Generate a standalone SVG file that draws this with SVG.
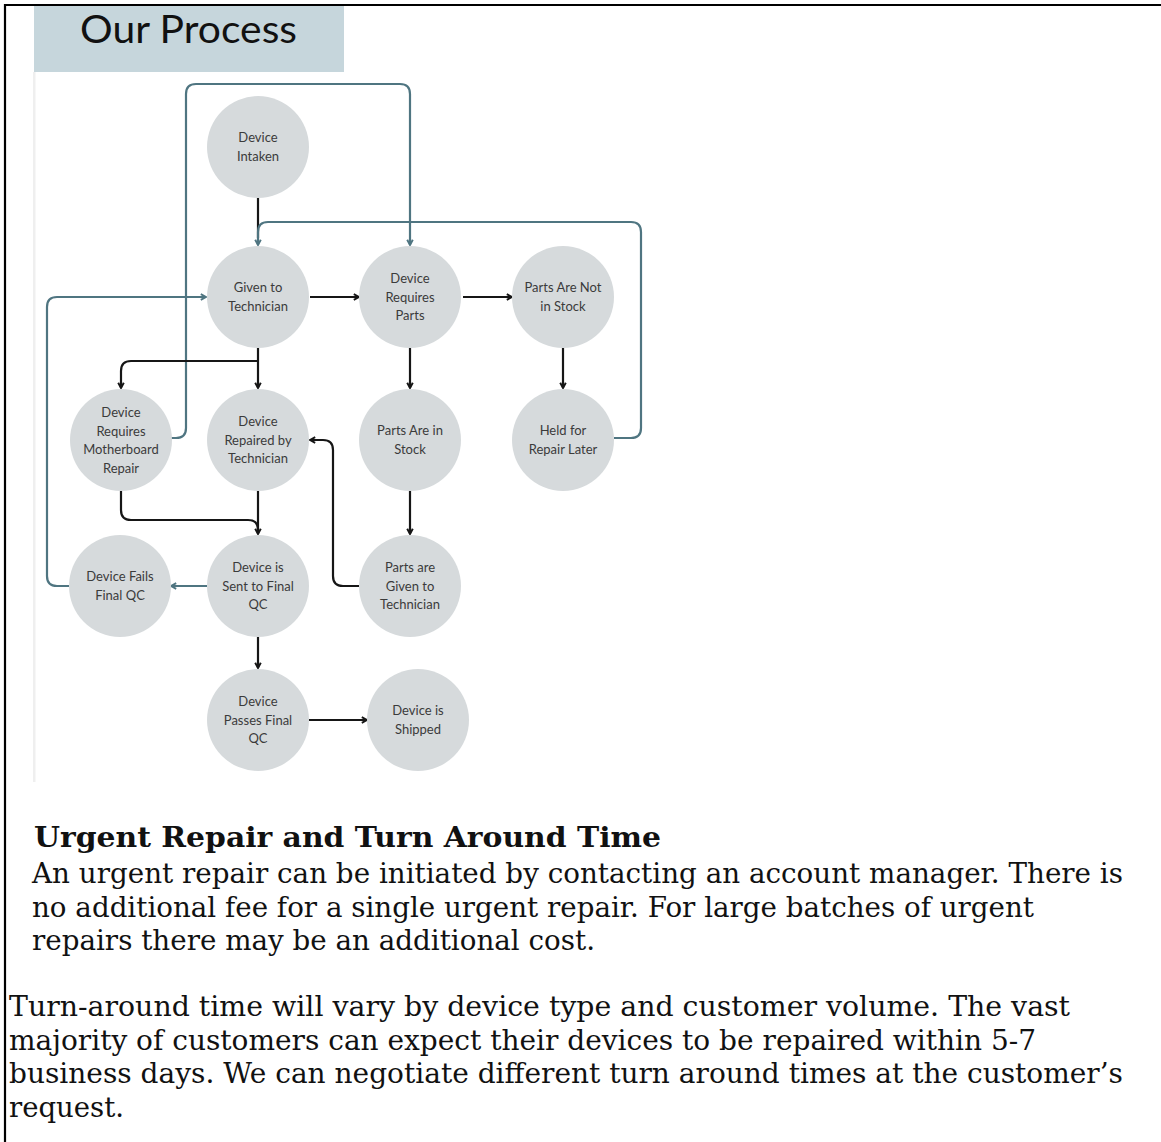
<svg xmlns="http://www.w3.org/2000/svg" width="1161" height="1142" viewBox="0 0 1161 1142">
<style>
.node circle{fill:#d6dadc}
.node text{font-family:Lato,"Noto Sans",sans-serif;font-size:13px;fill:#3b3b3b;text-anchor:middle}
.blk{fill:none;stroke:#161616;stroke-width:2.2}
.tl{fill:none;stroke:#4f7581;stroke-width:2.2}
.body{font-family:"DejaVu Serif","Liberation Serif",serif;font-size:27.5px;fill:#111}
.head{font-family:"DejaVu Serif","Liberation Serif",serif;font-size:28px;font-weight:bold;fill:#111}
</style>
<defs>
<marker id="ab" viewBox="0 0 10 10" refX="8.5" refY="5" markerWidth="8" markerHeight="8" markerUnits="userSpaceOnUse" orient="auto">
<path d="M2,1.5 L8.5,5 L2,8.5" fill="none" stroke="#161616" stroke-width="2.4"/>
</marker>
<marker id="at" viewBox="0 0 10 10" refX="8.5" refY="5" markerWidth="8" markerHeight="8" markerUnits="userSpaceOnUse" orient="auto">
<path d="M2,1.5 L8.5,5 L2,8.5" fill="none" stroke="#4f7581" stroke-width="2.4"/>
</marker>
</defs>
<rect width="1161" height="1142" fill="#fff"/>
<path d="M5,1142 V5 H1161" fill="none" stroke="#000" stroke-width="2.2"/>
<rect x="33" y="72" width="2.5" height="710" fill="#efefef"/>
<g id="title">
<rect x="34" y="6" width="310" height="66" fill="#c6d6dc"/>
<text x="80" y="43" font-family="Lato,'Noto Sans',sans-serif" font-size="38" fill="#111" textLength="217" lengthAdjust="spacingAndGlyphs">Our Process</text>
</g>
<g id="connectors">
<path class="blk" d="M258,198 V238"/>
<path class="tl" d="M614,438 H631 Q641,438 641,428 V232 Q641,222 631,222 H268 Q258,222 258,232 V245" marker-end="url(#at)"/>
<path class="tl" d="M171,438 H176 Q186,438 186,428 V94 Q186,84 196,84 H400 Q410,84 410,94 V245" marker-end="url(#at)"/>
<path class="tl" d="M69,586 H57 Q47,586 47,576 V307 Q47,297 57,297 H206" marker-end="url(#at)"/>
<path class="tl" d="M207,586 H171" marker-end="url(#at)"/>
<path class="blk" d="M310,297 H359" marker-end="url(#ab)"/>
<path class="blk" d="M463,297 H512" marker-end="url(#ab)"/>
<path class="blk" d="M258,348 V388" marker-end="url(#ab)"/>
<path class="blk" d="M258,361 H131 Q121,361 121,371 V388" marker-end="url(#ab)"/>
<path class="blk" d="M410,348 V388" marker-end="url(#ab)"/>
<path class="blk" d="M563,348 V388" marker-end="url(#ab)"/>
<path class="blk" d="M410,491 V534" marker-end="url(#ab)"/>
<path class="blk" d="M359,586 H343 Q333,586 333,576 V450 Q333,440 323,440 H310" marker-end="url(#ab)"/>
<path class="blk" d="M258,491 V534" marker-end="url(#ab)"/>
<path class="blk" d="M121,491 V510 Q121,520 131,520 H248 Q258,520 258,530"/>
<path class="blk" d="M258,637 V668" marker-end="url(#ab)"/>
<path class="blk" d="M309,720 H367" marker-end="url(#ab)"/>
</g>
<g id="n-intake" class="node"><circle cx="258" cy="147" r="51"/><text x="258" y="142">Device</text><text x="258" y="161">Intaken</text></g>
<g id="n-given" class="node"><circle cx="258" cy="297" r="51"/><text x="258" y="292">Given to</text><text x="258" y="311">Technician</text></g>
<g id="n-reqparts" class="node"><circle cx="410" cy="297" r="51"/><text x="410" y="283">Device</text><text x="410" y="301.5">Requires</text><text x="410" y="320">Parts</text></g>
<g id="n-notstock" class="node"><circle cx="563" cy="297" r="51"/><text x="563" y="292">Parts Are Not</text><text x="563" y="311">in Stock</text></g>
<g id="n-motherboard" class="node"><circle cx="121" cy="440" r="51"/><text x="121" y="417">Device</text><text x="121" y="435.5">Requires</text><text x="121" y="454">Motherboard</text><text x="121" y="472.5">Repair</text></g>
<g id="n-repaired" class="node"><circle cx="258" cy="440" r="51"/><text x="258" y="426">Device</text><text x="258" y="444.5">Repaired by</text><text x="258" y="463">Technician</text></g>
<g id="n-instock" class="node"><circle cx="410" cy="440" r="51"/><text x="410" y="435">Parts Are in</text><text x="410" y="454">Stock</text></g>
<g id="n-held" class="node"><circle cx="563" cy="440" r="51"/><text x="563" y="435">Held for</text><text x="563" y="454">Repair Later</text></g>
<g id="n-fails" class="node"><circle cx="120" cy="586" r="51"/><text x="120" y="581">Device Fails</text><text x="120" y="600">Final QC</text></g>
<g id="n-sent" class="node"><circle cx="258" cy="586" r="51"/><text x="258" y="572">Device is</text><text x="258" y="590.5">Sent to Final</text><text x="258" y="609">QC</text></g>
<g id="n-partsgiven" class="node"><circle cx="410" cy="586" r="51"/><text x="410" y="572">Parts are</text><text x="410" y="590.5">Given to</text><text x="410" y="609">Technician</text></g>
<g id="n-passes" class="node"><circle cx="258" cy="720" r="51"/><text x="258" y="706">Device</text><text x="258" y="724.5">Passes Final</text><text x="258" y="743">QC</text></g>
<g id="n-shipped" class="node"><circle cx="418" cy="720" r="51"/><text x="418" y="715">Device is</text><text x="418" y="734">Shipped</text></g>
<g id="text-block">
<text class="head" x="34" y="847" textLength="627" lengthAdjust="spacingAndGlyphs">Urgent Repair and Turn Around Time</text>
<text class="body" x="32" y="883" textLength="1091" lengthAdjust="spacingAndGlyphs">An urgent repair can be initiated by contacting an account manager. There is</text>
<text class="body" x="32" y="916.5" textLength="1002" lengthAdjust="spacingAndGlyphs">no additional fee for a single urgent repair. For large batches of urgent</text>
<text class="body" x="32" y="950" textLength="563" lengthAdjust="spacingAndGlyphs">repairs there may be an additional cost.</text>
<text class="body" x="9" y="1016" textLength="1061" lengthAdjust="spacingAndGlyphs">Turn-around time will vary by device type and customer volume. The vast</text>
<text class="body" x="9" y="1049.5" textLength="1027" lengthAdjust="spacingAndGlyphs">majority of customers can expect their devices to be repaired within 5-7</text>
<text class="body" x="9" y="1083" textLength="1114" lengthAdjust="spacingAndGlyphs">business days. We can negotiate different turn around times at the customer’s</text>
<text class="body" x="9" y="1116.5" textLength="115" lengthAdjust="spacingAndGlyphs">request.</text>
</g>
</svg>
